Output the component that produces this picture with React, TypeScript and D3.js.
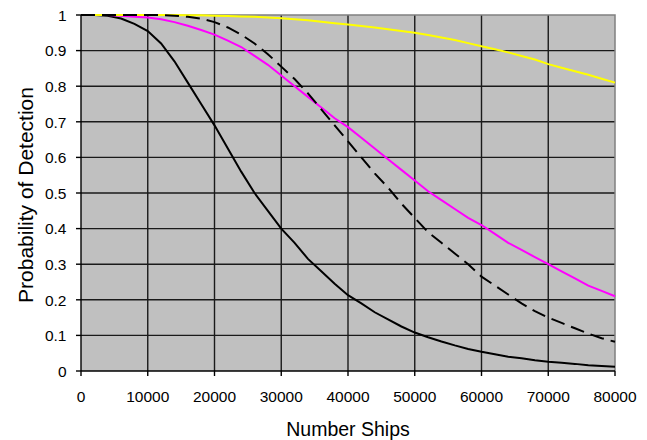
import React from 'react';
import * as d3 from 'd3';

const ships = [0, 2000, 4000, 6000, 8000, 10000, 12000, 14000, 16000, 18000, 20000,
  22000, 24000, 26000, 28000, 30000, 32000, 34000, 36000, 38000, 40000,
  42000, 44000, 46000, 48000, 50000, 52000, 54000, 56000, 58000, 60000,
  62000, 64000, 66000, 68000, 70000, 72000, 74000, 76000, 78000, 80000];

const blackSolid = [1, 1, 0.998, 0.99, 0.975, 0.955, 0.92, 0.87, 0.81, 0.75, 0.69,
  0.625, 0.56, 0.5, 0.45, 0.4, 0.36, 0.315, 0.28, 0.245, 0.213,
  0.19, 0.165, 0.145, 0.125, 0.108, 0.095, 0.083, 0.072, 0.062, 0.054,
  0.047, 0.04, 0.036, 0.03, 0.026, 0.023, 0.02, 0.016, 0.014, 0.012];

const magenta = [1, 1, 1, 0.998, 0.995, 0.993, 0.988, 0.98, 0.97, 0.958, 0.945,
  0.928, 0.91, 0.885, 0.86, 0.83, 0.8, 0.77, 0.74, 0.71, 0.685,
  0.655, 0.625, 0.595, 0.565, 0.535, 0.505, 0.48, 0.455, 0.43, 0.41,
  0.385, 0.36, 0.34, 0.32, 0.3, 0.28, 0.26, 0.24, 0.225, 0.21];

const dashed = [1, 1, 1, 1, 1, 1, 1, 0.998, 0.995, 0.99, 0.98,
  0.965, 0.945, 0.92, 0.89, 0.855, 0.82, 0.78, 0.735, 0.69, 0.645,
  0.6, 0.555, 0.515, 0.47, 0.43, 0.39, 0.36, 0.33, 0.3, 0.265,
  0.24, 0.215, 0.19, 0.168, 0.15, 0.135, 0.12, 0.105, 0.092, 0.082];

const yellow = [1, 1, 1, 1, 1, 1, 1, 1, 0.999, 0.999, 0.998,
  0.997, 0.996, 0.995, 0.993, 0.991, 0.988, 0.985, 0.981, 0.977, 0.973,
  0.969, 0.965, 0.96, 0.955, 0.95, 0.944, 0.937, 0.93, 0.921, 0.912,
  0.904, 0.895, 0.885, 0.875, 0.862, 0.852, 0.842, 0.832, 0.821, 0.81];

const xTicks = [0, 10000, 20000, 30000, 40000, 50000, 60000, 70000, 80000];
const yTicks = [0, 0.1, 0.2, 0.3, 0.4, 0.5, 0.6, 0.7, 0.8, 0.9, 1];

const L = 81, R = 615, T = 15, B = 371;

export default function App() {
  const x = d3.scaleLinear().domain([0, 80000]).range([L, R]);
  const y = d3.scaleLinear().domain([0, 1]).range([B, T]);
  const line = (vals: number[]) =>
    d3.line<number>().x((_, i) => x(ships[i])).y(d => y(d))(vals) || '';
  const font = 'Arial, "Liberation Sans", sans-serif';

  return (
    <svg width={647} height={440} style={{ position: 'absolute', left: 0, top: 0 }}
      fontFamily={font}>
      <rect x={L} y={T} width={R - L} height={B - T} fill="#c0c0c0" />
      {xTicks.slice(1, -1).map(t => (
        <line key={'gx' + t} x1={x(t)} x2={x(t)} y1={T} y2={B} stroke="#1a1a1a" strokeWidth={1.4} />
      ))}
      {yTicks.slice(1, -1).map(t => (
        <line key={'gy' + t} x1={L} x2={R} y1={y(t)} y2={y(t)} stroke="#1a1a1a" strokeWidth={1.4} />
      ))}
      <path d={`M${L},${T}H${R}V${B}`} fill="none" stroke="#808080" strokeWidth={1.5} />
      <line x1={L} x2={L} y1={T} y2={B} stroke="#000" strokeWidth={1.4} />
      <line x1={L} x2={R} y1={B} y2={B} stroke="#000" strokeWidth={1.4} />
      {yTicks.map(t => (
        <g key={'ty' + t}>
          <line x1={L - 5} x2={L} y1={y(t)} y2={y(t)} stroke="#000" strokeWidth={1.4} />
          <text x={66.5} y={y(t) + 5.8} textAnchor="end" fontSize={15.5}>{d3.format('')(t)}</text>
        </g>
      ))}
      {xTicks.map(t => (
        <g key={'tx' + t}>
          <line x1={x(t)} x2={x(t)} y1={B} y2={B + 5} stroke="#000" strokeWidth={1.4} />
          <text x={x(t)} y={401.5} textAnchor="middle" fontSize={15.5}>{t}</text>
        </g>
      ))}
      <path d={line(blackSolid)} fill="none" stroke="#000" strokeWidth={2} />
      <path d={line(magenta)} fill="none" stroke="#ff00ff" strokeWidth={2} />
      <path d={line(yellow)} fill="none" stroke="#ffff00" strokeWidth={2} />
      <path d={line(dashed)} fill="none" stroke="#000" strokeWidth={2} strokeDasharray="14,7" />
      <text x={348} y={436} textAnchor="middle" fontSize={19.5}>Number Ships</text>
      <text transform="translate(33,195) rotate(-90)" textAnchor="middle" fontSize={21}>
        Probability of Detection
      </text>
    </svg>
  );
}
